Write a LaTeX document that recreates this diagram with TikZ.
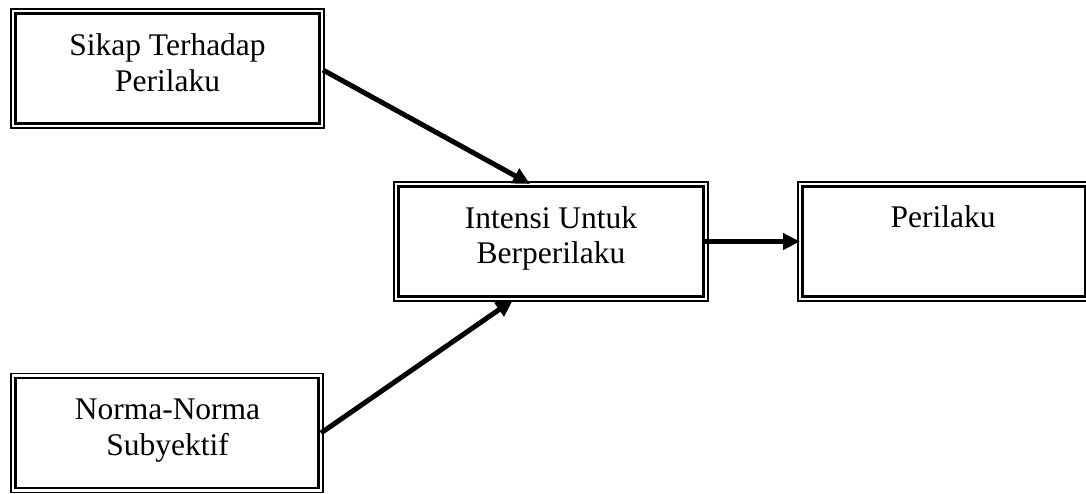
\documentclass[tikz,border=0pt]{standalone}
\usepackage{fontspec}
\setmainfont{Liberation Serif}
\usetikzlibrary{arrows.meta,calc}
\begin{document}
\begin{tikzpicture}[x=1pt,y=1pt,
  boxnode/.style={draw, line width=2.6pt, outer sep=0pt, inner sep=0pt, minimum height=110pt},
  outerline/.style={line width=1.8pt},
  lbl/.style={align=center, anchor=base, inner sep=0pt, font=\fontsize{31.5}{36}\selectfont},
  arr/.style={line width=5pt, -{Triangle[length=17pt,width=16pt]}}]
\useasboundingbox (0,0) rectangle (1086,493);
\node[boxnode, minimum width=304pt] (b1) at (167.5,424.5) {};
\node[boxnode, minimum width=305pt] (b2) at (551,251.5) {};
\node[boxnode, minimum width=282.5pt] (b3) at (943.75,251.5) {};
\node[boxnode, minimum width=303pt] (b4) at (167,60) {};
\foreach \n in {b1,b2,b3,b4}
  \draw[outerline] ([shift={(-4.5,4.5)}]\n.north west) rectangle ([shift={(4.5,-4.5)}]\n.south east);
\node[lbl] (t1) at (167.5,401) {Sikap Terhadap\\Perilaku};
\node[lbl] (t2) at (551,229) {Intensi Untuk\\Berperilaku};
\node[lbl] (t3) at (943,265) {Perilaku};
\node[lbl] (t4) at (167.5,38) {Norma-Norma\\Subyektif};
\coordinate (s1) at ([shift={(3.5,-56.5)}]b1.north east);
\coordinate (e1) at ([shift={(-21,2.5)}]b2.north);
\coordinate (s2) at ([shift={(2.5,-55)}]b4.north east);
\coordinate (e2) at ([shift={(-38,-3.5)}]b2.south);
\draw[arr] (s1) -- (e1);
\draw[arr] (s2) -- (e2);
\draw[arr] ([xshift=1.5pt]b2.east) -- ([xshift=-2.5pt]b3.west);
\end{tikzpicture}
\end{document}
